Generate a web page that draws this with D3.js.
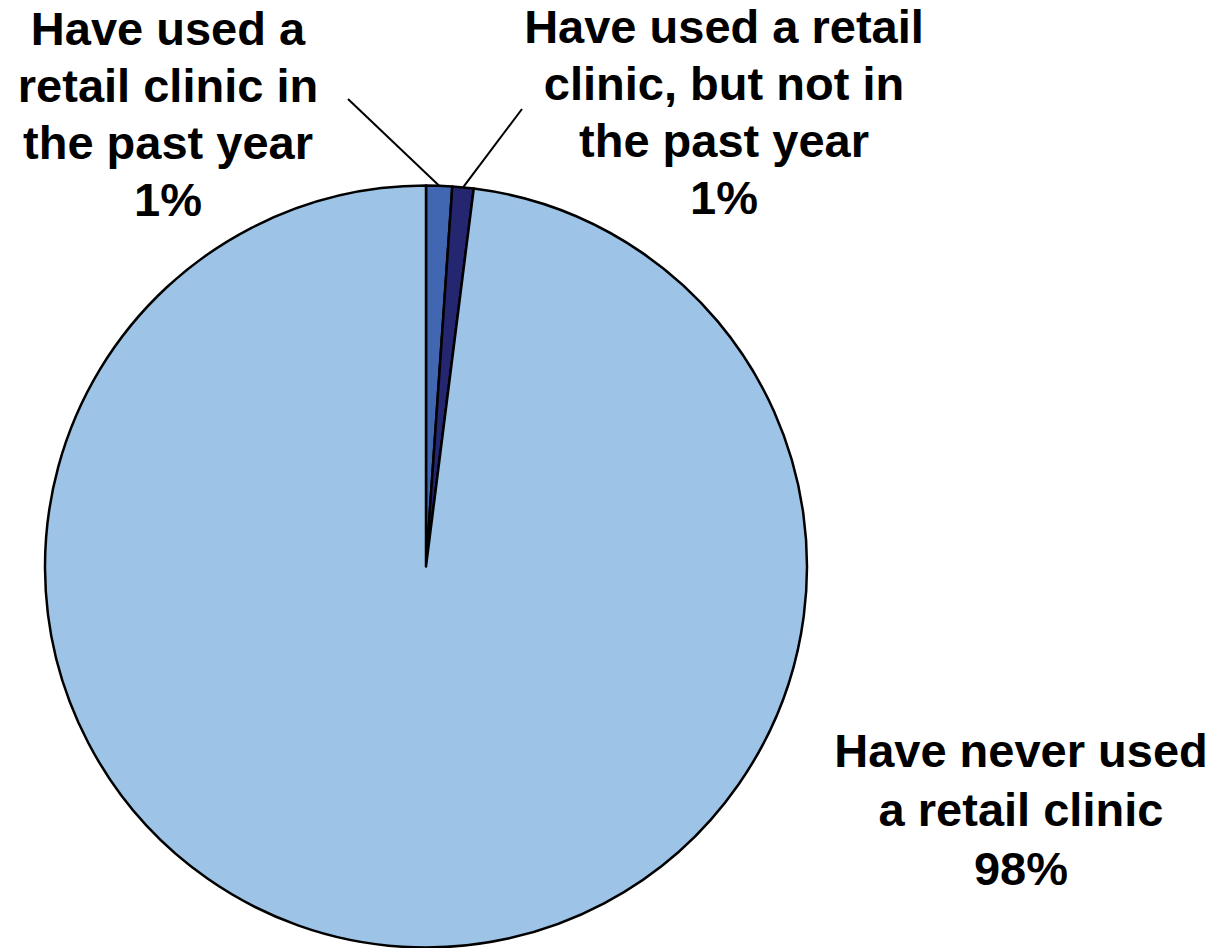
<!DOCTYPE html>
<html>
<head>
<meta charset="utf-8">
<script src="https://cdn.jsdelivr.net/npm/d3@7"></script>
<style>
html,body{margin:0;padding:0;background:#fff;}
svg{display:block;}
text{font-family:"Liberation Sans",Arial,sans-serif;font-weight:bold;fill:#000;}
</style>
</head>
<body>
<svg id="chart" width="1226" height="948"></svg>
<script>
const categories = [
  "Have used a retail clinic in the past year",
  "Have used a retail clinic, but not in the past year",
  "Have never used a retail clinic"
];
const values = [1.1, 0.9, 98.0];
const pctLabels = ["1%", "1%", "98%"];
const labelLines = [
  ["Have used a", "retail clinic in", "the past year"],
  ["Have used a retail", "clinic, but not in", "the past year"],
  ["Have never used", "a retail clinic"]
];
const colors = ["#4267B2", "#242670", "#9DC3E6"];

const svg = d3.select("#chart");
const cx = 426, cy = 566.5, R = 381;

const pie = d3.pie().sort(null).value(d => d.v).startAngle(0).endAngle(2 * Math.PI);
const data = categories.map((c, i) => ({c, v: values[i], i}));
const arcs = pie(data);
const arc = d3.arc().innerRadius(0).outerRadius(R);

const g = svg.append("g").attr("transform", `translate(${cx},${cy})`);
g.selectAll("path").data(arcs).enter().append("path")
  .attr("d", arc)
  .attr("fill", d => colors[d.data.i])
  .attr("stroke", "#000")
  .attr("stroke-width", 2.5)
  .attr("stroke-linejoin", "round");

// label positions (centre x, first baseline y)
const labelPos = [
  {x: 168, y: 45},
  {x: 724, y: 43},
  {x: 1021, y: 767}
];
const lineH = 57;
const fontSize = 47;

arcs.forEach((a, k) => {
  const p = labelPos[k];
  const t = svg.append("text")
    .attr("text-anchor", "middle")
    .attr("font-size", fontSize);
  const lines = labelLines[k].concat([pctLabels[k]]);
  lines.forEach((ln, j) => {
    t.append("tspan").attr("x", p.x).attr("y", p.y + j * (k === 2 ? 59 : lineH)).text(ln);
  });
});

// leader lines for the two small slices: from slice mid at rim to label
const leaders = [
  {from: 0, to: [348, 99]},
  {from: 1, to: [522, 109]}
];
leaders.forEach(l => {
  const a = arcs[l.from];
  const mid = (a.startAngle + a.endAngle) / 2;
  const px = cx + R * Math.sin(mid);
  const py = cy - R * Math.cos(mid);
  svg.append("line")
    .attr("x1", px).attr("y1", py)
    .attr("x2", l.to[0]).attr("y2", l.to[1])
    .attr("stroke", "#000").attr("stroke-width", 2);
});
</script>
</body>
</html>
